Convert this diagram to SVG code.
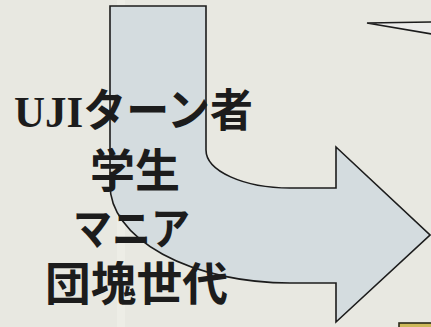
<svg xmlns="http://www.w3.org/2000/svg" width="431" height="327" viewBox="0 0 431 327">
<style>
.bg{fill:#e8e8e1}
.arrow{fill:#d4dcdf;stroke:#1c1c1c;stroke-width:1.6;stroke-linejoin:miter}
.lbl{font-family:"Liberation Serif","Noto Sans CJK JP",serif;font-weight:bold;fill:#1c1c1c}
.callout{fill:#ececea;stroke:#1c1c1c;stroke-width:1.6}
</style>
<rect class="bg" x="0" y="0" width="431" height="327"/>
<rect x="117" y="0" width="8" height="327" fill="#f0f0ea" opacity="0.6"/>
<g id="callout">
<path class="callout" d="M367,23 L432,22 L432,34 Z"/>
</g>
<g id="box">
<rect x="399" y="323" width="40" height="10" fill="#cdb95a" stroke="#2a2a1a" stroke-width="1.6"/>
</g>
<g id="connectors">
<path id="bent-arrow" class="arrow" d="M110,6 L206,6 L206,150 A84,38 0 0 0 290,188 L336,188 L336,147 L430,235 L336,322 L336,283 L290,283 A180,98 0 0 1 110,185 Z"/>
</g>
<g id="labels">
<text class="lbl" x="14" y="127" font-size="45" textLength="239" lengthAdjust="spacingAndGlyphs">UJIターン者</text>
<text class="lbl" x="90" y="187" font-size="46" textLength="90" lengthAdjust="spacingAndGlyphs">学生</text>
<text class="lbl" x="73" y="245" font-size="44" textLength="117" lengthAdjust="spacingAndGlyphs">マニア</text>
<text class="lbl" x="45" y="300" font-size="46" textLength="183" lengthAdjust="spacingAndGlyphs">団塊世代</text>
</g>
</svg>
